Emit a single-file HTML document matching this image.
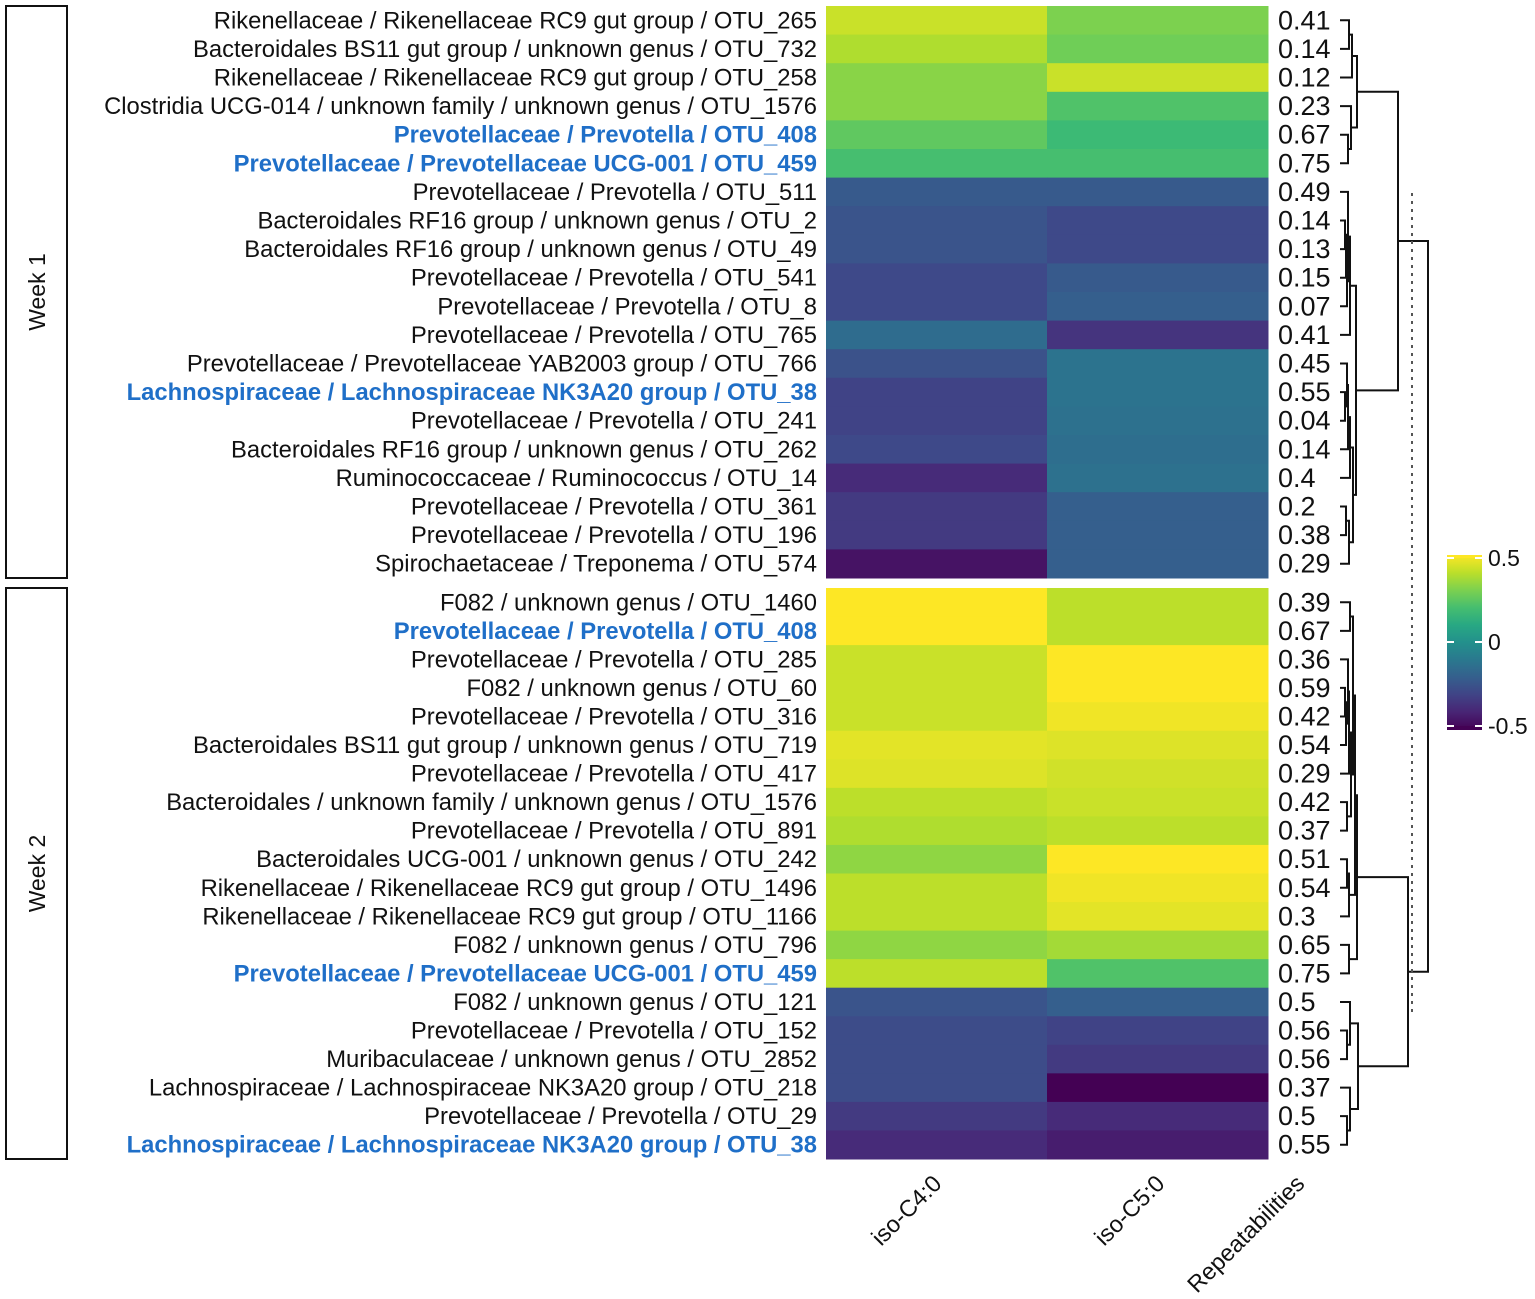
<!DOCTYPE html>
<html><head><meta charset="utf-8">
<style>
html,body{margin:0;padding:0;background:#fff;}
svg{display:block;font-family:"Liberation Sans",Arial,sans-serif;}
</style></head>
<body>
<svg id="chart" width="1535" height="1299" viewBox="0 0 1535 1299" xmlns="http://www.w3.org/2000/svg"></svg>
<script>
const week1Labels = ["Rikenellaceae / Rikenellaceae RC9 gut group / OTU_265","Bacteroidales BS11 gut group / unknown genus / OTU_732","Rikenellaceae / Rikenellaceae RC9 gut group / OTU_258","Clostridia UCG-014 / unknown family / unknown genus / OTU_1576","Prevotellaceae / Prevotella / OTU_408","Prevotellaceae / Prevotellaceae UCG-001 / OTU_459","Prevotellaceae / Prevotella / OTU_511","Bacteroidales RF16 group / unknown genus / OTU_2","Bacteroidales RF16 group / unknown genus / OTU_49","Prevotellaceae / Prevotella / OTU_541","Prevotellaceae / Prevotella / OTU_8","Prevotellaceae / Prevotella / OTU_765","Prevotellaceae / Prevotellaceae YAB2003 group / OTU_766","Lachnospiraceae / Lachnospiraceae NK3A20 group / OTU_38","Prevotellaceae / Prevotella / OTU_241","Bacteroidales RF16 group / unknown genus / OTU_262","Ruminococcaceae / Ruminococcus / OTU_14","Prevotellaceae / Prevotella / OTU_361","Prevotellaceae / Prevotella / OTU_196","Spirochaetaceae / Treponema / OTU_574"];
const week1Highlight = [4,5,13];
const week1IsoC4 = [0.42,0.38,0.32,0.32,0.25,0.2,-0.22,-0.24,-0.24,-0.28,-0.28,-0.15,-0.25,-0.3,-0.3,-0.28,-0.38,-0.33,-0.33,-0.45];
const week1IsoC5 = [0.3,0.28,0.42,0.22,0.18,0.2,-0.22,-0.28,-0.28,-0.22,-0.2,-0.35,-0.12,-0.12,-0.13,-0.14,-0.13,-0.2,-0.2,-0.2];
const week1Rep = ["0.41","0.14","0.12","0.23","0.67","0.75","0.49","0.14","0.13","0.15","0.07","0.41","0.45","0.55","0.04","0.14","0.4","0.2","0.38","0.29"];
const week2Labels = ["F082 / unknown genus / OTU_1460","Prevotellaceae / Prevotella / OTU_408","Prevotellaceae / Prevotella / OTU_285","F082 / unknown genus / OTU_60","Prevotellaceae / Prevotella / OTU_316","Bacteroidales BS11 gut group / unknown genus / OTU_719","Prevotellaceae / Prevotella / OTU_417","Bacteroidales / unknown family / unknown genus / OTU_1576","Prevotellaceae / Prevotella / OTU_891","Bacteroidales UCG-001 / unknown genus / OTU_242","Rikenellaceae / Rikenellaceae RC9 gut group / OTU_1496","Rikenellaceae / Rikenellaceae RC9 gut group / OTU_1166","F082 / unknown genus / OTU_796","Prevotellaceae / Prevotellaceae UCG-001 / OTU_459","F082 / unknown genus / OTU_121","Prevotellaceae / Prevotella / OTU_152","Muribaculaceae / unknown genus / OTU_2852","Lachnospiraceae / Lachnospiraceae NK3A20 group / OTU_218","Prevotellaceae / Prevotella / OTU_29","Lachnospiraceae / Lachnospiraceae NK3A20 group / OTU_38"];
const week2Highlight = [1,13,19];
const week2IsoC4 = [0.5,0.5,0.42,0.42,0.42,0.46,0.45,0.4,0.38,0.33,0.4,0.4,0.33,0.4,-0.24,-0.27,-0.27,-0.27,-0.33,-0.38];
const week2IsoC5 = [0.4,0.4,0.5,0.5,0.48,0.45,0.43,0.42,0.4,0.52,0.48,0.46,0.36,0.22,-0.2,-0.3,-0.33,-0.5,-0.38,-0.42];
const week2Rep = ["0.39","0.67","0.36","0.59","0.42","0.54","0.29","0.42","0.37","0.51","0.54","0.3","0.65","0.75","0.5","0.56","0.56","0.37","0.5","0.55"];
const columnLabels = ["iso-C4:0","iso-C5:0","Repeatabilities"];
const colorTicks = [0.5,0,-0.5];

const NS="http://www.w3.org/2000/svg";
const svg=document.getElementById('chart');
function mk(tag,attrs,parent){const e=document.createElementNS(NS,tag);for(const k in attrs)e.setAttribute(k,attrs[k]);(parent||svg).appendChild(e);return e;}
const V=[[68,1,84],[72,40,120],[62,74,137],[49,104,142],[38,130,142],[31,158,137],[53,183,121],[110,206,88],[181,222,43],[253,231,37]];
function viridis(v){let t=(v+0.5)/1.0;t=Math.max(0,Math.min(1,t));const p=t*(V.length-1);const i=Math.min(V.length-2,Math.floor(p));const f=p-i;const c=V[i].map((a,k)=>Math.round(a+(V[i+1][k]-a)*f));return `rgb(${c[0]},${c[1]},${c[2]})`;}
const X0=826, CW=221;
function xCol(j){return X0+j*CW;}
const blocks=[{top:6,bot:578,labels:week1Labels,hl:week1Highlight,c4:week1IsoC4,c5:week1IsoC5,rep:week1Rep,name:"Week 1"},
{top:588,bot:1159,labels:week2Labels,hl:week2Highlight,c4:week2IsoC4,c5:week2IsoC5,rep:week2Rep,name:"Week 2"}];
const centers=[];
blocks.forEach((b,bi)=>{
  const n=b.labels.length, rh=(b.bot-b.top)/n;
  const yRow=i=>b.top+i*rh;
  centers.push([]);
  for(let i=0;i<n;i++){
    [b.c4,b.c5].forEach((arr,j)=>{
      const r=mk('rect',{x:xCol(j),y:yRow(i),width:CW+0.5,height:rh+0.5,fill:viridis(arr[i])});
      
      
    });
    const yc=yRow(i)+rh/2; centers[bi].push(yc);
    const hl=b.hl.includes(i);
    const t=mk('text',{x:817,y:yc+8,'text-anchor':'end','font-size':23.8,fill:hl?'#1f6fc8':'#111','font-weight':hl?'bold':'normal'});
    t.textContent=b.labels[i];
    
    
    const rt=mk('text',{x:1278,y:yc+9,'font-size':27,fill:'#111'});
    rt.textContent=b.rep[i];
    
    
  }
  const box=mk('rect',{x:6,y:b.top,width:61,height:b.bot-b.top,fill:'none',stroke:'#111','stroke-width':2});
  
  
  const cy=(b.top+b.bot)/2;
  const wt=mk('text',{x:45,y:cy,'font-size':23,'text-anchor':'middle',transform:`rotate(-90 45 ${cy})`,fill:'#111'});
  wt.textContent=b.name;
  
  
});
const colEnds=[943,1166,1306];
columnLabels.forEach((s,j)=>{
  const t=mk('text',{x:colEnds[j],y:1185,'font-size':23.5,'text-anchor':'end',transform:`rotate(-45 ${colEnds[j]} 1185)`,fill:'#111'});
  t.textContent=s;
  
  
});
const dg=mk('g',{stroke:'#111','stroke-width':2,fill:'none'});


function L(bi,i){return {x:1340,y:centers[bi][i]};}
function J(a,b,x){mk('path',{d:`M${a.x},${a.y}H${x}V${b.y}H${b.x}`},dg);return {x:x,y:(a.y+b.y)/2};}
let n12=J(L(0,0),L(0,1),1349), n123=J(n12,L(0,2),1352);
let n56=J(L(0,4),L(0,5),1348), n456=J(L(0,3),n56,1351);
let top1=J(n123,n456,1357);
let g1=J(L(0,7),L(0,8),1345), g1a=J(g1,L(0,9),1346), g1b=J(g1a,L(0,10),1347), g1c=J(L(0,6),g1b,1348), g1d=J(g1c,L(0,11),1350);
let g2=J(L(0,13),L(0,14),1345), g2a=J(L(0,12),g2,1347), g2b=J(g2a,L(0,15),1348), g2c=J(g2b,L(0,16),1350);
let g3=J(L(0,17),L(0,18),1346), g3a=J(g3,L(0,19),1349);
let g4=J(g2c,g3a,1353);
let low1=J(g1d,g4,1356);
let W1=J(top1,low1,1398);
let a=J(L(1,0),L(1,1),1350);
let b1=J(L(1,3),L(1,4),1345), b2=J(b1,L(1,5),1346), b3=J(L(1,2),b2,1348), b4=J(L(1,7),L(1,8),1347), b5=J(b3,L(1,6),1349), b6=J(b5,b4,1351);
let c1=J(L(1,9),L(1,10),1347), c2=J(c1,L(1,11),1349);
let d1=J(L(1,12),L(1,13),1349);
let u1=J(a,b6,1353), u2=J(u1,c2,1355), u3=J(u2,d1,1357);
let e1=J(L(1,15),L(1,16),1347), e2=J(L(1,14),e1,1350);
let f1=J(L(1,18),L(1,19),1347), f2=J(L(1,17),f1,1350);
let lo=J(e2,f2,1358);
let W2=J(u3,lo,1408);
J(W1,W2,1428);
const dl=mk('line',{x1:1412,y1:193,x2:1412,y2:1015,stroke:'#555','stroke-width':2,'stroke-dasharray':'3,5'});


const cbTop=555, cbBot=730, cbX=1447, cbW=35;
const cbY=v=>558+(0.5-v)/1.0*(726-558);
const grad=mk('linearGradient',{id:'vg',x1:0,y1:1,x2:0,y2:0},mk('defs',{}));
for(let k=0;k<=10;k++){const v=-0.5+k/10; mk('stop',{offset:((cbY(-0.5)-cbY(v))/(cbY(-0.5)-cbY(0.5))),'stop-color':viridis(v)},grad);}
const cb=mk('rect',{x:cbX,y:cbTop,width:cbW,height:cbBot-cbTop,fill:'url(#vg)'});
mk('rect',{x:cbX,y:cbTop,width:cbW,height:cbY(0.5)-cbTop,fill:viridis(0.5)});
mk('rect',{x:cbX,y:cbY(-0.5),width:cbW,height:cbBot-cbY(-0.5),fill:viridis(-0.5)});


colorTicks.forEach(v=>{
  const y=cbY(v);
  mk('line',{x1:cbX,y1:y,x2:cbX+7,y2:y,stroke:'#fff','stroke-width':2});
  mk('line',{x1:cbX+cbW-7,y1:y,x2:cbX+cbW,y2:y,stroke:'#fff','stroke-width':2});
  const t=mk('text',{x:cbX+cbW+6,y:y+8,'font-size':23,fill:'#111'});
  t.textContent=String(v);
  
  
});
</script>
</body></html>
